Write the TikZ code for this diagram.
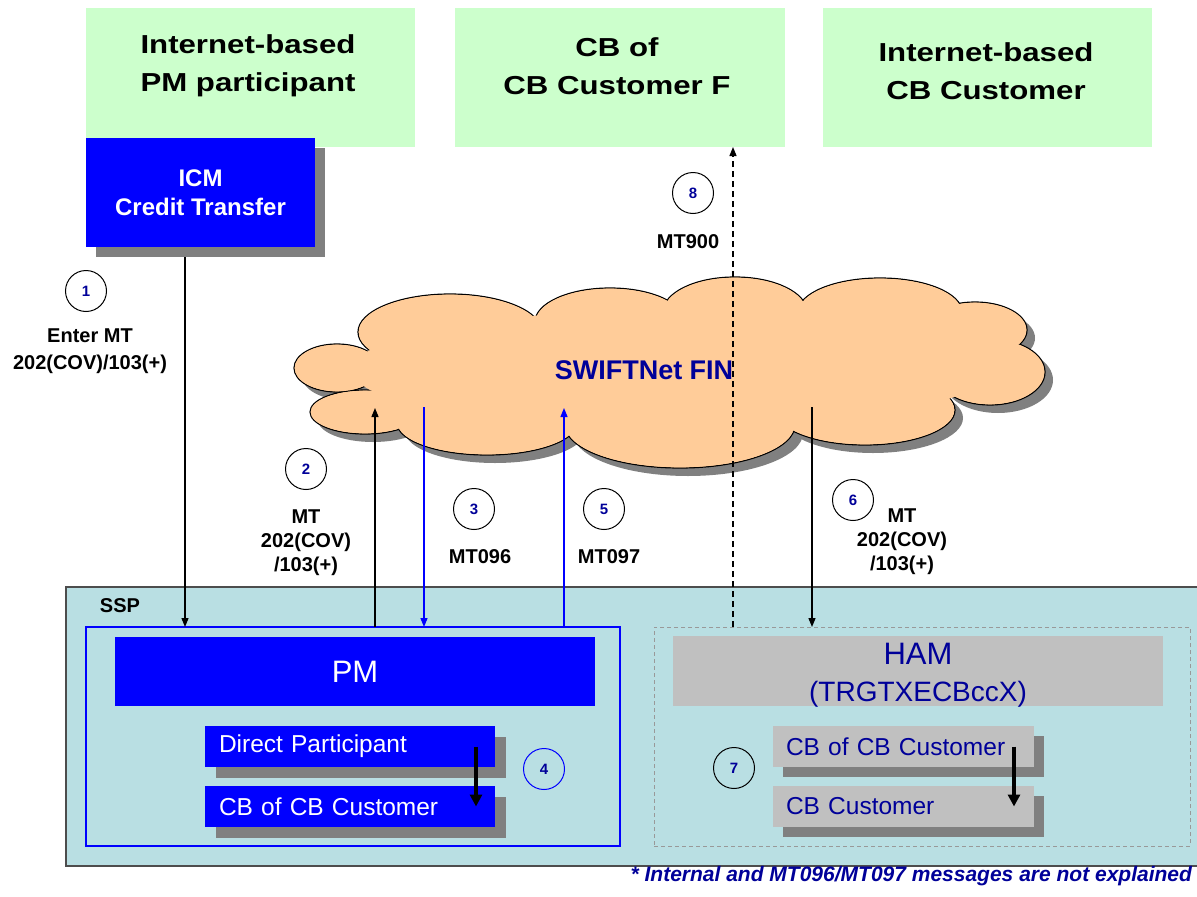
\documentclass[tikz,border=0pt]{standalone}
\usepackage{fontspec}
\setmainfont{Liberation Sans}
\newfontfamily\widefont[FakeStretch=1.2]{Liberation Sans}
\usetikzlibrary{arrows.meta,shadows}
\definecolor{lgreen}{HTML}{CCFFCC}
\definecolor{pblue}{HTML}{0000FF}
\definecolor{navy}{HTML}{000099}
\definecolor{shgray}{HTML}{808080}
\definecolor{sspfill}{HTML}{B9DFE3}
\definecolor{sspborder}{HTML}{4D4D4D}
\definecolor{peach}{HTML}{FFCC99}
\definecolor{hamgray}{HTML}{C0C0C0}
\definecolor{dashgray}{HTML}{999999}
\newcommand{\lobes}{337/368/43/24, 365/412/55/22, 487/423/90/32, 680/425/115/43, 865/410/90/35,
  990/372/55/33, 975/330/52/28, 880/312/82/34, 735/312/72/35, 610/322/75/34, 450/332/92/38}
\begin{document}
\begin{tikzpicture}[x=1pt,y=-1pt,
  every node/.style={inner sep=0pt, outer sep=0pt},
  boxshadow/.style={general shadow={fill=shgray, shadow xshift=#1, shadow yshift=-#1}},
  greenbox/.style={fill=lgreen, minimum height=139pt},
  gtext/.style={font=\widefont\bfseries\fontsize{26}{38}\selectfont, align=center},
  bluebox/.style={fill=pblue, text=white},
  smallbox/.style={minimum width=#1, minimum height=41pt, align=left, font=\fontsize{24.5}{29}\selectfont},
  circ/.style={circle, draw=black, line width=1pt, minimum size=41pt, font=\bfseries\fontsize{15}{18}\selectfont, text=navy},
  lab/.style={font=\bfseries\fontsize{20}{24}\selectfont, align=center},
  arr/.style={line width=1.3pt, -{Triangle[length=9pt,width=7pt]}},
  arrb/.style={arr, draw=pblue, -{Triangle[length=9pt,width=7pt,fill=pblue]}},
  arrthick/.style={line width=3.5pt, -{Triangle[length=12pt,width=12pt]}}
]
\clip (0,0) rectangle (1197,897);
\fill[white] (0,0) rectangle (1197,897);

% top green boxes
\node[greenbox, minimum width=329pt] (g1) at (250.5,77.5) {};
\node[greenbox, minimum width=330pt] (g2) at (620,77.5) {};
\node[greenbox, minimum width=329pt] (g3) at (987.5,77.5) {};
\node[gtext] (g1t) at (248,66) {Internet-based\\PM participant};
\node[gtext] (g2t) at (617,66) {CB of\\CB Customer F};
\node[gtext] (g3t) at (986,71) {Internet-based\\CB Customer};

% ICM
\node[bluebox, boxshadow=10pt, minimum width=229pt, minimum height=109pt,
      font=\bfseries\fontsize{24}{29}\selectfont, align=center] (icm) at (200.5,192.5) {ICM\\Credit Transfer};

% SSP container
\node[draw=sspborder, line width=2pt, fill=sspfill, minimum width=1139pt, minimum height=279pt] (ssp) at (635.5,726.5) {};
\node[lab] (ssplab) at (120,606) {SSP};

% PM area
\node[draw=pblue, line width=1.3pt, minimum width=534pt, minimum height=219pt] (pmout) at (353,736.5) {};
\node[bluebox, minimum width=480pt, minimum height=69pt, font=\fontsize{31}{37}\selectfont] (pm) at (355,671.5) {PM};
\node[bluebox, boxshadow=11pt, smallbox=290pt, text width=262pt, inner xsep=14pt] (dp) at (350,746.5) {Direct Participant};
\node[bluebox, boxshadow=11pt, smallbox=290pt, text width=262pt, inner xsep=14pt] (cbc) at (350,806.5) {CB of CB Customer};
\coordinate (c4) at (476,0);
\draw[arrthick] (dp.center -| c4) -- (cbc.center -| c4);
\node[circ, draw=pblue] (n4) at (544,769) {4};

% HAM area
\node[draw=dashgray, line width=1pt, dash pattern=on 4pt off 3pt, minimum width=536pt, minimum height=219pt] (hamout) at (922,736.5) {};
\node[fill=hamgray, minimum width=490pt, minimum height=70pt] (ham) at (918,671) {};
\node[text=navy, align=center, font=\fontsize{31}{37}\selectfont] (hamt) at (918,675)
  {HAM\\\fontsize{28}{37}\selectfont (TRGTXECBccX)};
\node[fill=hamgray, text=navy, boxshadow=10pt, smallbox=261pt, inner xsep=13pt, text width=235pt] (hcbc) at (903.5,746.5) {CB of CB Customer};
\node[fill=hamgray, text=navy, boxshadow=10pt, smallbox=261pt, inner xsep=13pt, text width=235pt] (hcust) at (903.5,806.5) {CB Customer};
\coordinate (c7) at (1014,0);
\draw[arrthick] (hcbc.center -| c7) -- (hcust.center -| c7);
\node[circ] (n7) at (734,768) {7};

% cloud (union of lobes)
\foreach \cx/\cy/\rx/\ry in \lobes
  \fill[shgray] (\cx+8,\cy+8) ellipse [x radius=\rx, y radius=\ry];
\foreach \cx/\cy/\rx/\ry in \lobes
  \filldraw[fill=peach, draw=black, line width=1.2pt] (\cx,\cy) ellipse [x radius=\rx, y radius=\ry];
\fill[peach] (670,370) ellipse [x radius=318, y radius=60];
\foreach \cx/\cy/\rx/\ry in \lobes
  \fill[peach] (\cx,\cy) ellipse [x radius=\rx-0.7, y radius=\ry-0.7];
\node[font=\bfseries\fontsize{27}{32}\selectfont, text=navy] (cloudt) at (644,370) {SWIFTNet FIN};

% connectors
\coordinate (c1) at (185,0);
\draw[arr] ([yshift=-10pt]icm.south -| c1) -- (pmout.north -| c1);
\coordinate (t2) at (375,408);
\draw[arr] (pmout.north -| t2) -- (t2);
\coordinate (s3) at (424,407);
\draw[arrb] (s3) -- (pmout.north -| s3);
\coordinate (t5) at (564,408);
\draw[arrb] (pmout.north -| t5) -- (t5);
\coordinate (s6) at (812,407);
\draw[arr] (s6) -- (hamout.north -| s6);
\coordinate (c8) at (733,0);
\draw[arr, dash pattern=on 6pt off 4pt] (hamout.north -| c8) -- (g2.south -| c8);

% step circles and labels
\node[circ] (n1) at (86,291) {1};
\node[lab, font=\bfseries\fontsize{20}{27}\selectfont] (l1) at (90,351) {Enter MT\\202(COV)/103(+)};
\node[circ] (n2) at (306,469) {2};
\node[lab] (l2) at (306,543) {MT\\202(COV)\\/103(+)};
\node[circ] (n3) at (474,509) {3};
\node[lab] (l3) at (480,557) {MT096};
\node[circ] (n5) at (604,509) {5};
\node[lab] (l5) at (609,557) {MT097};
\node[circ] (n6) at (853,500) {6};
\node[lab] (l6) at (902,542) {MT\\202(COV)\\/103(+)};
\node[circ] (n8) at (693,193) {8};
\node[lab] (l8) at (688,242) {MT900};

% footnote
\node[anchor=east, font=\bfseries\itshape\fontsize{21}{25}\selectfont, text=navy] (note) at (1192,876)
  {* Internal and MT096/MT097 messages are not explained};
\end{tikzpicture}
\end{document}
